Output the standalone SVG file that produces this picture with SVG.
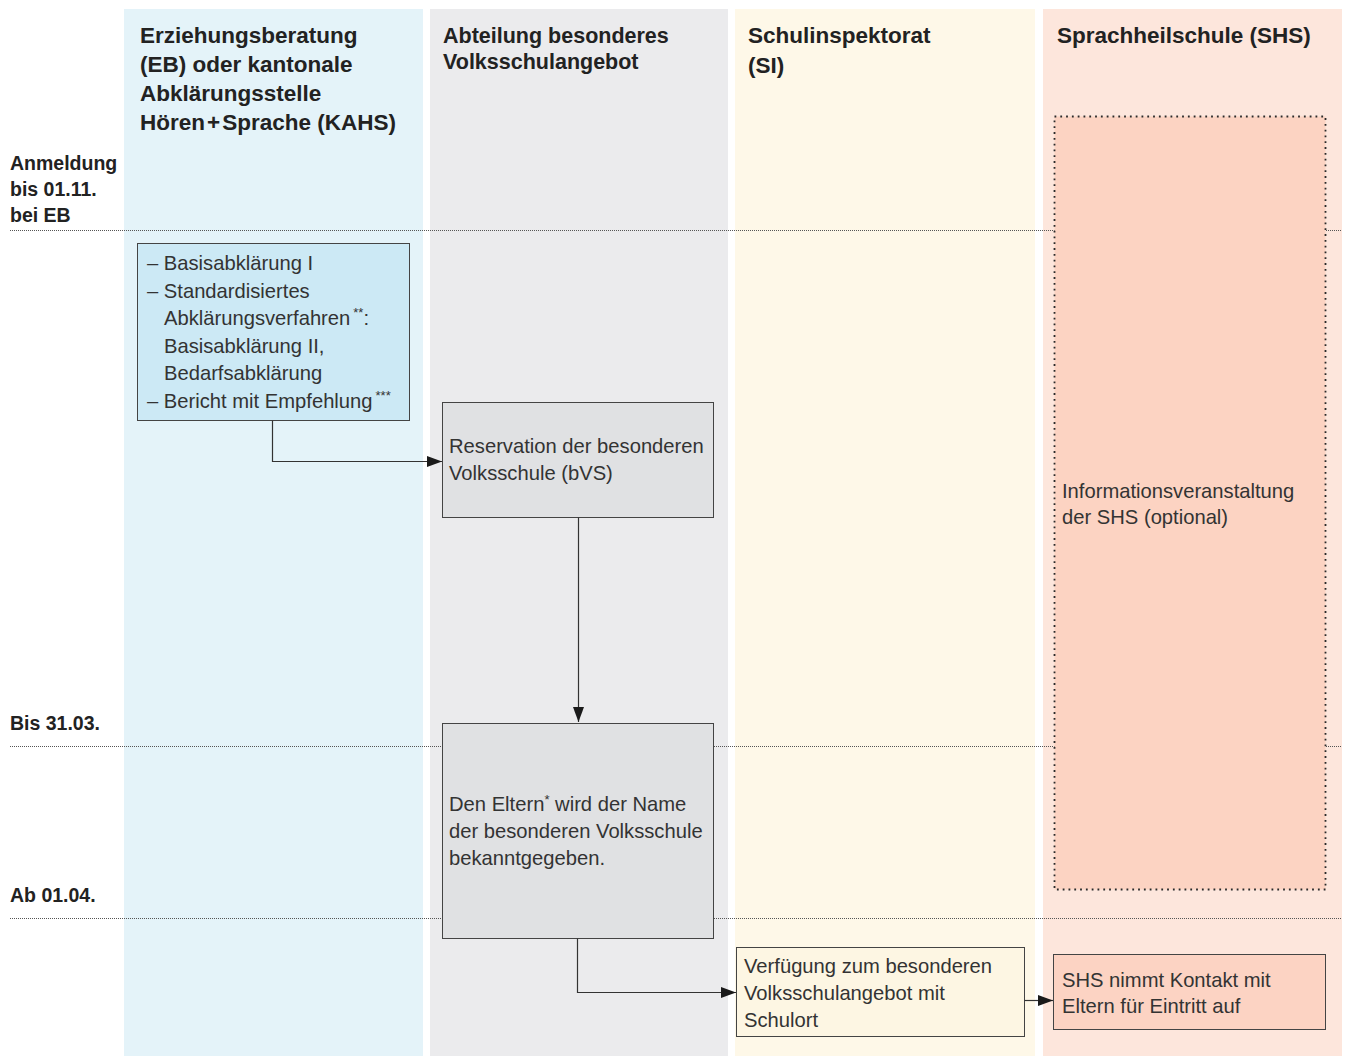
<svg xmlns="http://www.w3.org/2000/svg" width="1349" height="1056" viewBox="0 0 1349 1056">
<defs>
<marker id="ah" viewBox="0 0 15 11" refX="15" refY="5.5" markerWidth="15" markerHeight="11" markerUnits="userSpaceOnUse" orient="auto">
<path d="M0,0 L15,5.5 L0,11 Z" fill="#1a1a1a"/>
</marker>
</defs>
<style>
.hd{font-family:"Liberation Sans",Arial,sans-serif;font-weight:bold;font-size:22.5px;fill:#222}
.lb{font-family:"Liberation Sans",Arial,sans-serif;font-weight:bold;font-size:19.5px;fill:#222}
.tx{font-family:"Liberation Sans",Arial,sans-serif;font-size:20.2px;fill:#333}
.sup{font-size:13px}
.box{stroke:#444;stroke-width:1}
.sep{stroke:#555;stroke-width:1;stroke-dasharray:1 1;fill:none}
.con{stroke:#333;stroke-width:1.2;fill:none}
</style>
<rect width="1349" height="1056" fill="#ffffff"/>
<g id="lanes">
<rect x="124" y="9" width="299" height="1047" fill="#e4f3f9"/>
<rect x="430" y="9" width="298" height="1047" fill="#ebebed"/>
<rect x="735" y="9" width="300" height="1047" fill="#fef8e8"/>
<rect x="1043" y="9" width="299" height="1047" fill="#fde6dc"/>
</g>
<g id="headers">
<text class="hd" x="140" y="43">Erziehungsberatung</text>
<text class="hd" x="140" y="72">(EB) oder kantonale</text>
<text class="hd" x="140" y="101">Abklärungsstelle</text>
<text class="hd" x="140" y="130">Hören<tspan dx="2">+</tspan><tspan dx="2">Sprache (KAHS)</tspan></text>
<text class="hd" x="443" y="43" style="font-size:21.5px">Abteilung besonderes</text>
<text class="hd" x="443" y="69" style="font-size:21.5px">Volksschulangebot</text>
<text class="hd" x="748" y="43">Schulinspektorat</text>
<text class="hd" x="748" y="73">(SI)</text>
<text class="hd" x="1057" y="43">Sprachheilschule (SHS)</text>
</g>
<g id="timeline">
<line class="sep" x1="10" y1="230.5" x2="1342" y2="230.5"/>
<line class="sep" x1="10" y1="746.5" x2="1342" y2="746.5"/>
<line class="sep" x1="10" y1="918.5" x2="1342" y2="918.5"/>
<text class="lb" x="10" y="170">Anmeldung</text>
<text class="lb" x="10" y="196">bis 01.11.</text>
<text class="lb" x="10" y="222">bei EB</text>
<text class="lb" x="10" y="730">Bis 31.03.</text>
<text class="lb" x="10" y="902">Ab 01.04.</text>
</g>
<g id="node-info">
<rect x="1054.5" y="116.5" width="271" height="773" fill="#fcd3c2" stroke="#2a2a2a" stroke-width="1.8" stroke-dasharray="1.8 4"/>
<text class="tx" x="1062" y="498">Informationsveranstaltung</text>
<text class="tx" x="1062" y="524">der SHS (optional)</text>
</g>
<g id="node-abklaerung">
<rect class="box" x="137.5" y="243.5" width="272" height="177" fill="#cce9f5"/>
<text class="tx" x="147" y="270">– Basisabklärung I</text>
<text class="tx" x="147" y="297.5">– Standardisiertes</text>
<text class="tx" x="164" y="325">Abklärungsverfahren<tspan class="sup" dx="3" dy="-8">**</tspan><tspan dy="8">:</tspan></text>
<text class="tx" x="164" y="352.5">Basisabklärung II,</text>
<text class="tx" x="164" y="380">Bedarfsabklärung</text>
<text class="tx" x="147" y="407.5">– Bericht mit Empfehlung<tspan class="sup" dx="3" dy="-8">***</tspan></text>
</g>
<g id="node-reservation">
<rect class="box" x="442.5" y="402.5" width="271" height="115" fill="#e0e1e3"/>
<text class="tx" x="449" y="453">Reservation der besonderen</text>
<text class="tx" x="449" y="480">Volksschule (bVS)</text>
</g>
<g id="node-eltern">
<rect class="box" x="442.5" y="723.5" width="271" height="215" fill="#e0e1e3"/>
<text class="tx" x="449" y="811">Den Eltern<tspan class="sup" dy="-7">*</tspan><tspan dy="7"> wird der Name</tspan></text>
<text class="tx" x="449" y="838">der besonderen Volksschule</text>
<text class="tx" x="449" y="865">bekanntgegeben.</text>
</g>
<g id="node-verfuegung">
<rect class="box" x="736.5" y="947.5" width="288" height="89" fill="#fdf6e3"/>
<text class="tx" x="744" y="973">Verfügung zum besonderen</text>
<text class="tx" x="744" y="1000">Volksschulangebot mit</text>
<text class="tx" x="744" y="1027">Schulort</text>
</g>
<g id="node-kontakt">
<rect class="box" x="1053.5" y="954.5" width="272" height="75" fill="#fcd3c3"/>
<text class="tx" x="1062" y="987">SHS nimmt Kontakt mit</text>
<text class="tx" x="1062" y="1013">Eltern für Eintritt auf</text>
</g>
<g id="connectors">
<path class="con" d="M272.5,420.5 V461.5 H442" marker-end="url(#ah)"/>
<path class="con" d="M578.5,517.5 V722" marker-end="url(#ah)"/>
<path class="con" d="M577.5,938.5 V992.5 H736" marker-end="url(#ah)"/>
<path class="con" d="M1024.5,1000.5 H1053" marker-end="url(#ah)"/>
</g>
</svg>
